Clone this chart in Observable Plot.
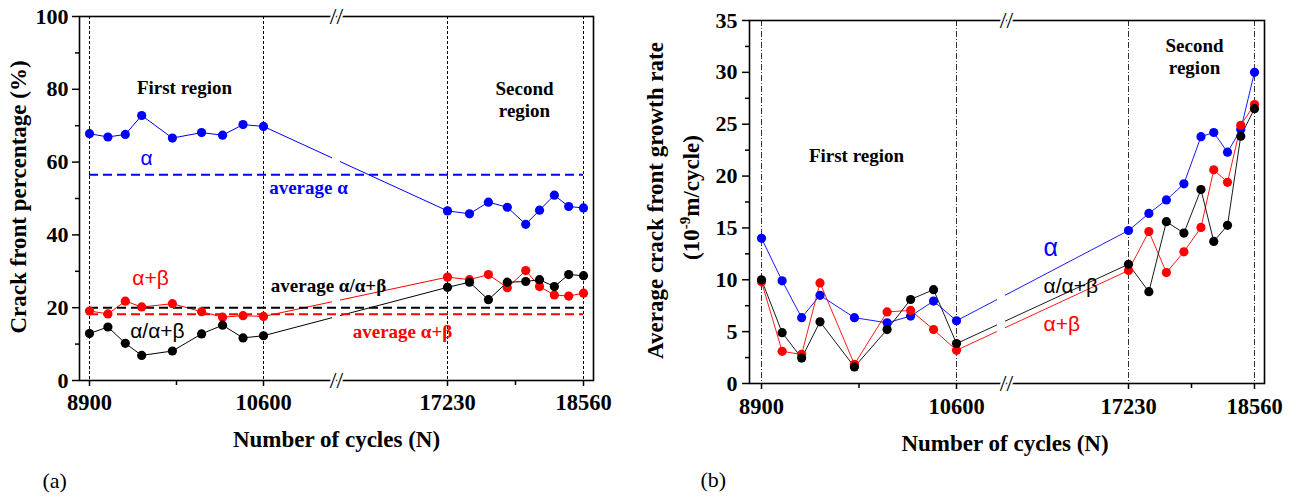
<!DOCTYPE html>
<html><head><meta charset="utf-8">
<script src="https://cdn.jsdelivr.net/npm/d3@7"></script>
<script src="https://cdn.jsdelivr.net/npm/@observablehq/plot@0.6"></script>
<style>
body{margin:0;background:#fff;width:1305px;height:498px;overflow:hidden;position:relative}
#a,#b{position:absolute;top:0}
#a{left:0px} #b{left:652px}
</style></head><body>
<div id="a"></div><div id="b"></div>
<script>
// ---------- data ----------
const cycles = [8900, 9080, 9250, 9410, 9710, 9995, 10200, 10400, 10600,
                17230, 17445, 17630, 17815, 17995, 18130, 18275, 18415, 18560];
// (a) crack front percentage (%)
const pctAlpha        = [67.8, 66.9, 67.6, 72.8, 66.6, 68.1, 67.4, 70.3, 69.8,
                         46.6, 45.8, 49.0, 47.6, 42.9, 46.8, 50.9, 47.8, 47.4];
const pctAlphaBeta    = [19.1, 18.3, 21.8, 20.2, 21.1, 18.9, 17.4, 17.8, 17.6,
                         28.4, 27.7, 29.1, 25.5, 30.2, 25.8, 23.5, 23.2, 24.0];
const pctAlphaAlphaBeta = [12.9, 14.7, 10.2, 6.9, 8.1, 12.8, 15.2, 11.7, 12.3,
                         25.6, 27.0, 22.2, 27.0, 27.2, 27.7, 25.8, 29.1, 28.8];
const avgAlpha = 56.5, avgAlphaAlphaBeta = 20.0, avgAlphaBeta = 18.2;
// (b) average crack front growth rate (1e-9 m/cycle)
const rateAlpha        = [14.0, 9.9, 6.35, 8.5, 6.35, 5.85, 6.5, 7.95, 6.05,
                          14.75, 16.4, 17.7, 19.25, 23.8, 24.2, 22.3, 24.5, 30.0];
const rateAlphaBeta    = [9.8, 3.1, 2.8, 9.7, 1.85, 6.9, 7.05, 5.2, 3.2,
                          10.9, 14.65, 10.7, 12.7, 15.05, 20.6, 19.4, 24.9, 26.9];
const rateAlphaAlphaBeta = [10.0, 4.9, 2.45, 5.95, 1.6, 5.2, 8.1, 9.05, 3.85,
                          11.5, 8.85, 15.6, 14.5, 18.7, 13.7, 15.25, 23.85, 26.5];
// axes
const xTicks = [8900, 10600, 17230, 18560];
const xMinorTicks = [9750, 17895];
const regionX = [8900, 10600, 17230, 18560];
const yTicksA = [0, 20, 40, 60, 80, 100];
const yMinorA = [10, 30, 50, 70, 90];
const yTicksB = [0, 5, 10, 15, 20, 25, 30, 35];
const yMinorB = [2.5, 7.5, 12.5, 17.5, 22.5, 27.5, 32.5];
// annotation labels
const labelsA = [
  {x: 9828, y: 78.6, t: "First region", c: "black", f: "serif", w: "bold", s: 19},
  {x: 17983, y: 72.3, t: "Second\nregion", c: "black", f: "serif", w: "bold", s: 19},
  {x: 9457, y: 59.1, t: "α", c: "#0000ff", f: "sans", w: "normal", s: 21},
  {x: 12221, y: 51.1, t: "average α", c: "#0000ff", f: "serif", w: "bold", s: 19},
  {x: 9496, y: 26.1, t: "α+β", c: "#ff0000", f: "sans", w: "normal", s: 21},
  {x: 12942, y: 24.2, t: "average α/α+β", c: "black", f: "serif", w: "bold", s: 19},
  {x: 9564, y: 11.8, t: "α/α+β", c: "black", f: "sans", w: "normal", s: 21},
  {x: 15608, y: 11.8, t: "average α+β", c: "#ff0000", f: "serif", w: "bold", s: 19}
];
const labelsB = [
  {x: 9728, y: 21.4, t: "First region", c: "black", f: "serif", w: "bold", s: 19, a: "middle"},
  {x: 17927, y: 29.8, t: "Second\nregion", c: "black", f: "serif", w: "bold", s: 19, a: "middle"},
  {x: 13954, y: 12.3, t: "α", c: "#0000ff", f: "sans", w: "normal", s: 25, a: "start"},
  {x: 13954, y: 8.75, t: "α/α+β", c: "black", f: "sans", w: "normal", s: 21, a: "start"},
  {x: 13954, y: 5.1, t: "α+β", c: "#ff0000", f: "sans", w: "normal", s: 21, a: "start"}
];

const serif = "Liberation Serif";
const sans = "Liberation Sans";
const BLUE = "#0000ff", RED = "#ff0000", BLACK = "#000000";
const rows = ys => cycles.map((c, i) => ({x: c, y: ys[i]}));

function panel(o) {
  const series = [
    {v: o.s1, c: BLUE}, {v: o.s2, c: RED}, {v: o.s3, c: BLACK}
  ];
  const breakMark = anchor => Plot.text(["//"], {x: o.breakX, frameAnchor: anchor, text: d => d, fontSize: 24, fontWeight: "normal", fontFamily: serif, textAnchor: "middle", lineAnchor: "middle", fill: "black", stroke: "white", strokeWidth: 4, paintOrder: "stroke"});
  const marks = [
    Plot.ruleX(regionX, {stroke: o.regionStroke, strokeWidth: 1, strokeDasharray: o.regionDash}),
    ...series.map(s => Plot.line(rows(s.v), {x: "x", y: "y", stroke: s.c, strokeWidth: o.lw})),
    Plot.rect([o.gap], {x1: d => d[0], x2: d => d[1], fill: "white"}),
    ...(o.avgs || []).map(a => Plot.ruleY([a.v], {x1: 8900, x2: 18560, stroke: a.c, strokeWidth: 2, strokeDasharray: "9,5"})),
    ...series.map(s => Plot.dot(rows(s.v), {x: "x", y: "y", fill: s.c, r: 4.6})),
    Plot.frame({stroke: "black", strokeWidth: 1.6}),
    Plot.axisY({ticks: o.yTicks, tickSize: 7, tickPadding: o.yPad, fontSize: 22, fontWeight: "bold", fontFamily: serif, strokeWidth: 1.5, label: null, tickFormat: d => String(d)}),
    Plot.axisY({ticks: o.yMinor, tickSize: 4, strokeWidth: 1.5, label: null, tickFormat: () => ""}),
    Plot.axisX({ticks: xTicks, tickSize: 6, tickPadding: o.xPad, fontSize: 22.5, fontWeight: "bold", fontFamily: serif, strokeWidth: 1.5, label: null, tickFormat: d => String(d)}),
    Plot.axisX({ticks: xMinorTicks, tickSize: 5, strokeWidth: 1.5, label: null, tickFormat: () => ""}),
    ...o.labels.map(d => Plot.text([d], {x: "x", y: "y", text: "t", fill: d.c, lineAnchor: "bottom", lineHeight: 1.2,
      textAnchor: d.a || "middle",
      fontFamily: d.f === "serif" ? serif : sans, fontWeight: d.w, fontSize: d.s})),
    breakMark("top"),
    breakMark("bottom"),
    Plot.text(["Number of cycles (N)"], {frameAnchor: "bottom", text: d => d, dx: o.xtDx, dy: o.xtDy, textAnchor: "middle", lineAnchor: "bottom", fontSize: 23, fontWeight: "bold", fontFamily: serif}),
    ...o.yTitles.map(t => Plot.text([t.t], {frameAnchor: "left", text: d => d, rotate: -90, dx: t.dx, dy: t.dy, textAnchor: "middle", lineAnchor: "bottom", fontSize: 23, fontWeight: "bold", fontFamily: serif})),
    Plot.text([o.tag], {frameAnchor: "bottom-left", text: d => d, dx: o.tagDx, dy: o.tagDy, textAnchor: "start", lineAnchor: "bottom", fontSize: 22, fontWeight: "normal", fontFamily: serif})
  ];
  return Plot.plot({
    width: o.width, height: 498,
    marginLeft: o.mL, marginRight: o.mR, marginTop: o.mT, marginBottom: o.mB,
    style: {fontFamily: serif, background: "transparent", overflow: "visible"},
    x: {type: "linear", domain: [8900, 10600, 17230, 18560], range: o.xRange},
    y: {domain: o.yDomain},
    marks
  });
}

const plotA = panel({
  width: 652, mL: 79, mR: 59, mT: 16, mB: 118,
  xRange: [89, 263, 447, 583], yDomain: [0, 100],
  s1: pctAlpha, s2: pctAlphaBeta, s3: pctAlphaAlphaBeta, lw: 1,
  avgs: [{v: avgAlpha, c: BLUE}, {v: avgAlphaAlphaBeta, c: BLACK}, {v: avgAlphaBeta, c: RED}],
  regionStroke: "black", regionDash: "3,2",
  gap: [13086, 13374], breakX: 13230,
  yTicks: yTicksA, yMinor: yMinorA, yPad: 4, xPad: 8,
  labels: labelsA,
  xtDx: 0, xtDy: 66,
  yTitles: [{t: "Crack front percentage (%)", dx: -54, dy: -1.5}],
  tag: "(a)", tagDx: -37, tagDy: 107
});
const plotB = panel({
  width: 653, mL: 97, mR: 41, mT: 20, mB: 115,
  xRange: [109, 304, 476, 602], yDomain: [0, 35],
  s1: rateAlpha, s2: rateAlphaBeta, s3: rateAlphaAlphaBeta, lw: 0.9,
  avgs: [],
  regionStroke: "#333", regionDash: "6,2,1,2",
  gap: [12181, 12489], breakX: 12528,
  yTicks: yTicksB, yMinor: yMinorB, yPad: 5, xPad: 9,
  labels: labelsB,
  xtDx: -2, xtDy: 67,
  yTitles: [{t: "Average crack front growth rate", dx: -87, dy: -1.5},
            {t: "(10-9m/cycle)", dx: -51, dy: -4.5}],
  tag: "(b)", tagDx: -49, tagDy: 103
});
document.getElementById("a").appendChild(plotA);
document.getElementById("b").appendChild(plotB);

// superscript for 10^-9
plotB.querySelectorAll("text").forEach(el => {
  if (el.textContent === "(10-9m/cycle)") {
    const ns = "http://www.w3.org/2000/svg";
    el.textContent = "";
    const parts = [["(10", null, null], ["-9", -9, 15], ["m/cycle)", 9, null]];
    for (const [s, dy, fs] of parts) {
      const t = document.createElementNS(ns, "tspan");
      t.textContent = s;
      if (dy !== null) t.setAttribute("dy", dy);
      if (fs) t.setAttribute("font-size", fs);
      el.appendChild(t);
    }
  }
});
</script>
</body></html>
